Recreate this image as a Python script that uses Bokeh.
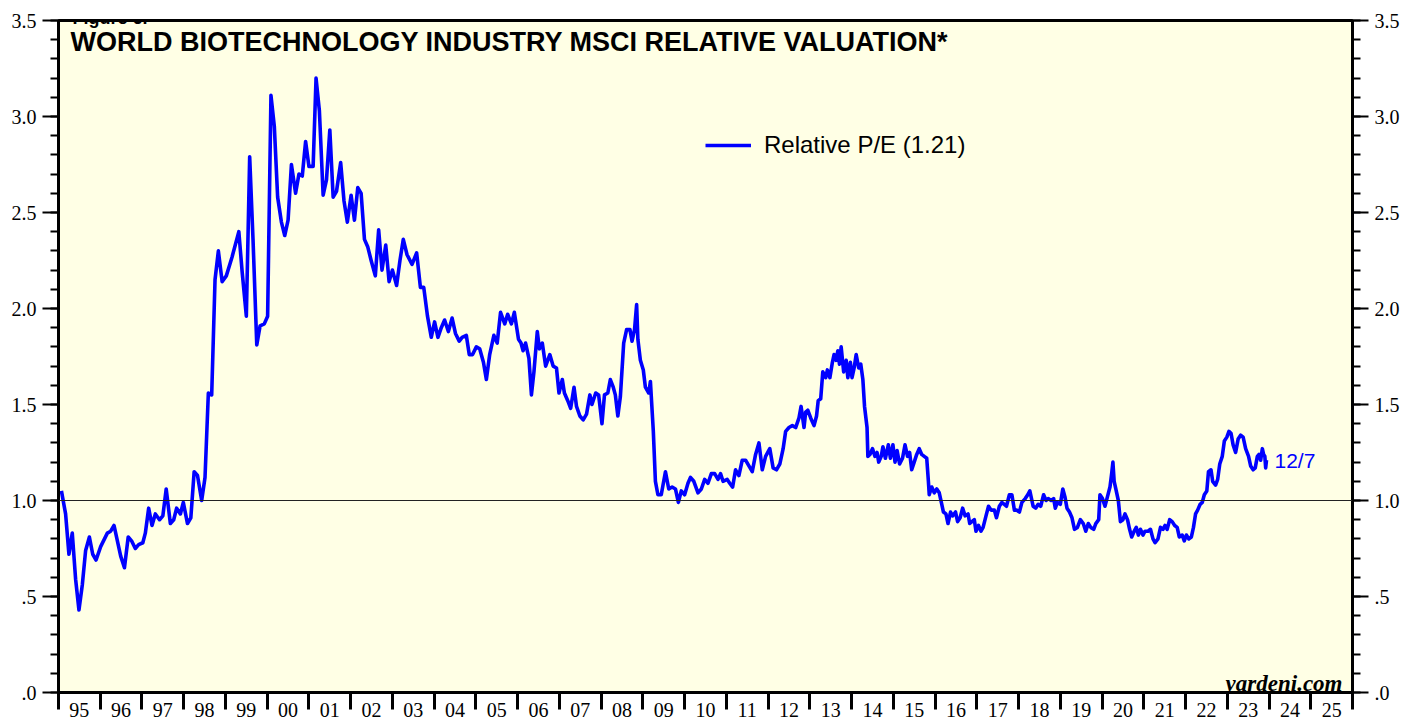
from bokeh.plotting import figure
from bokeh.models import (LinearAxis, FixedTicker, Range1d, Span, Label,
                          Legend, LegendItem)
from bokeh.embed import file_html
from bokeh.resources import INLINE

# ---- data ----
years = [
    1995.07, 1995.17, 1995.25, 1995.33, 1995.41, 1995.49, 1995.57, 1995.65, 1995.74, 1995.82,
    1995.90, 1996.01, 1996.17, 1996.25, 1996.33, 1996.49, 1996.58, 1996.67, 1996.75, 1996.84,
    1996.92, 1997.02, 1997.08, 1997.16, 1997.24, 1997.32, 1997.42, 1997.50, 1997.58, 1997.68,
    1997.76, 1997.83, 1997.92, 1997.99, 1998.09, 1998.17, 1998.25, 1998.33, 1998.43, 1998.51,
    1998.59, 1998.67, 1998.75, 1998.83, 1998.92, 1999.02, 1999.16, 1999.32, 1999.40, 1999.50,
    1999.58, 1999.66, 1999.75, 1999.83, 1999.93, 2000.01, 2000.09, 2000.17, 2000.25, 2000.34,
    2000.42, 2000.50, 2000.58, 2000.68, 2000.76,
    2000.84, 2000.92, 2001.00, 2001.10, 2001.17, 2001.25, 2001.34, 2001.42, 2001.50, 2001.58,
    2001.66, 2001.76, 2001.84, 2001.92, 2002.01, 2002.09, 2002.17, 2002.25, 2002.33, 2002.41,
    2002.49, 2002.59, 2002.67, 2002.75, 2002.84, 2002.92, 2003.00, 2003.10, 2003.18, 2003.26,
    2003.35, 2003.47, 2003.58, 2003.67, 2003.75, 2003.84, 2003.93, 2004.01, 2004.09, 2004.17,
    2004.25, 2004.34, 2004.43, 2004.51, 2004.60, 2004.67, 2004.77, 2004.84, 2004.92, 2005.01,
    2005.09, 2005.18, 2005.25, 2005.33, 2005.43, 2005.51, 2005.59, 2005.69, 2005.76, 2005.85,
    2005.92, 2006.02, 2006.08, 2006.13, 2006.19, 2006.27, 2006.33, 2006.39, 2006.47, 2006.52,
    2006.59, 2006.67, 2006.77, 2006.85, 2006.93, 2006.99, 2007.07, 2007.12, 2007.20, 2007.27,
    2007.35, 2007.41, 2007.49, 2007.57, 2007.65, 2007.73, 2007.78, 2007.87, 2007.94, 2008.02,
    2008.08, 2008.16, 2008.22, 2008.29, 2008.34, 2008.40, 2008.46, 2008.54, 2008.61, 2008.69,
    2008.74, 2008.80, 2008.85, 2008.88, 2008.94, 2009.01, 2009.06, 2009.14, 2009.18, 2009.25,
    2009.30, 2009.36, 2009.44, 2009.54, 2009.62, 2009.70, 2009.78, 2009.85, 2009.92, 2010.00,
    2010.08, 2010.14, 2010.22, 2010.32, 2010.40, 2010.48, 2010.56, 2010.64, 2010.72, 2010.80,
    2010.86, 2010.92, 2011.02, 2011.08, 2011.15, 2011.22, 2011.30, 2011.38, 2011.46, 2011.54,
    2011.62, 2011.70, 2011.78, 2011.86, 2011.94, 2012.04, 2012.12, 2012.20, 2012.28,
    2012.36, 2012.42, 2012.50, 2012.58, 2012.66, 2012.74, 2012.79, 2012.86, 2012.90, 2012.95,
    2013.02, 2013.10, 2013.16, 2013.20, 2013.26, 2013.31, 2013.38, 2013.42, 2013.48, 2013.54,
    2013.58, 2013.63, 2013.67, 2013.71, 2013.75, 2013.81, 2013.87, 2013.91, 2013.97, 2014.01,
    2014.06, 2014.11, 2014.17, 2014.22, 2014.27, 2014.31, 2014.37, 2014.39, 2014.44, 2014.50,
    2014.56, 2014.61, 2014.65, 2014.71, 2014.75, 2014.81, 2014.88, 2014.93, 2014.99, 2015.04,
    2015.09, 2015.15, 2015.22, 2015.28, 2015.34, 2015.39, 2015.44, 2015.50, 2015.56, 2015.62,
    2015.68, 2015.74, 2015.80, 2015.84, 2015.86, 2015.92, 2015.98, 2016.04, 2016.10, 2016.15,
    2016.20, 2016.26, 2016.31, 2016.37, 2016.42, 2016.49, 2016.54, 2016.60, 2016.66, 2016.72,
    2016.79, 2016.83, 2016.88, 2016.94, 2016.98, 2017.04, 2017.10, 2017.15, 2017.22, 2017.28,
    2017.34, 2017.42, 2017.47, 2017.54, 2017.60, 2017.66, 2017.71, 2017.78, 2017.84, 2017.90,
    2017.95, 2018.02, 2018.08, 2018.16, 2018.22, 2018.27,
    2018.35, 2018.41, 2018.47, 2018.53, 2018.60, 2018.66, 2018.71, 2018.78, 2018.84, 2018.88,
    2018.93, 2019.00, 2019.06, 2019.11, 2019.16, 2019.22, 2019.28, 2019.34, 2019.41, 2019.48,
    2019.55, 2019.61, 2019.67, 2019.73, 2019.80, 2019.85, 2019.92, 2019.95, 2020.01, 2020.07,
    2020.13, 2020.19, 2020.23, 2020.26, 2020.29, 2020.33, 2020.39, 2020.44, 2020.50, 2020.55,
    2020.61, 2020.66, 2020.71, 2020.77, 2020.82, 2020.87, 2020.92, 2020.98, 2021.03, 2021.10,
    2021.16, 2021.22, 2021.27, 2021.34, 2021.40, 2021.46, 2021.51, 2021.56, 2021.62, 2021.68,
    2021.74, 2021.80, 2021.85, 2021.92, 2021.97, 2022.02, 2022.08, 2022.14, 2022.19, 2022.24,
    2022.29, 2022.35, 2022.40, 2022.45, 2022.51, 2022.55, 2022.61, 2022.65, 2022.72, 2022.77,
    2022.82, 2022.88, 2022.93, 2022.99, 2023.04, 2023.09, 2023.14, 2023.20, 2023.26, 2023.32,
    2023.38, 2023.44, 2023.51, 2023.56, 2023.62, 2023.67, 2023.72, 2023.76, 2023.80, 2023.84,
    2023.87, 2023.90, 2023.92, 2023.94,
]

relative_pe = [
    1.05, 0.93, 0.72, 0.83, 0.59, 0.43, 0.56, 0.74, 0.81, 0.72,
    0.69, 0.76, 0.83, 0.84, 0.87, 0.71, 0.65, 0.81, 0.79, 0.75,
    0.77, 0.78, 0.83, 0.96, 0.87, 0.93, 0.90, 0.92, 1.06, 0.88,
    0.90, 0.96, 0.93, 0.99, 0.88, 0.91, 1.15, 1.13, 1.00, 1.12,
    1.56, 1.55, 2.15, 2.30, 2.14, 2.17, 2.27, 2.40, 2.19, 1.96,
    2.79, 2.36, 1.81, 1.91, 1.92, 1.96, 3.11, 2.95, 2.58, 2.45,
    2.38, 2.46, 2.75, 2.60, 2.70,
    2.69, 2.87, 2.74, 2.74, 3.20, 3.03, 2.59, 2.67, 2.93, 2.58,
    2.61, 2.76, 2.56, 2.45, 2.59, 2.46, 2.63, 2.60, 2.36, 2.32,
    2.25, 2.17, 2.41, 2.20, 2.33, 2.14, 2.20, 2.12, 2.25, 2.36,
    2.28, 2.23, 2.29, 2.11, 2.11, 1.96, 1.85, 1.93, 1.85, 1.90,
    1.94, 1.88, 1.95, 1.87, 1.83, 1.85, 1.86, 1.76, 1.76, 1.80,
    1.79, 1.72, 1.63, 1.76, 1.86, 1.82, 1.98, 1.92, 1.97, 1.92,
    1.98, 1.84, 1.82, 1.78, 1.82, 1.74, 1.55, 1.67, 1.88, 1.79,
    1.82, 1.70, 1.76, 1.70, 1.69, 1.56, 1.63, 1.56, 1.52, 1.48,
    1.59, 1.49, 1.44, 1.42, 1.45, 1.55, 1.50, 1.56, 1.55, 1.40,
    1.55, 1.56, 1.63, 1.59, 1.55, 1.44, 1.54, 1.82, 1.89, 1.89,
    1.83, 1.89, 2.02, 1.84, 1.73, 1.68, 1.59, 1.56, 1.62, 1.36,
    1.10, 1.03, 1.03, 1.15, 1.06, 1.07, 1.06, 0.99, 1.05, 1.03,
    1.09, 1.12, 1.10, 1.04, 1.06, 1.11, 1.09, 1.14, 1.14, 1.11,
    1.14, 1.10, 1.11, 1.09, 1.07, 1.16, 1.13, 1.21, 1.21, 1.18,
    1.15, 1.24, 1.30, 1.16, 1.23, 1.27, 1.17, 1.16, 1.19,
    1.27, 1.36, 1.38, 1.39, 1.38, 1.43, 1.49, 1.38, 1.46, 1.47,
    1.43, 1.39, 1.44, 1.52, 1.53, 1.67, 1.64, 1.68, 1.64, 1.72,
    1.76, 1.73, 1.78, 1.71, 1.80, 1.67, 1.73, 1.64, 1.72, 1.64,
    1.69, 1.76, 1.69, 1.71, 1.63, 1.49, 1.38, 1.23, 1.24, 1.27,
    1.23, 1.25, 1.20, 1.23, 1.28, 1.22, 1.29, 1.22, 1.29, 1.20,
    1.26, 1.19, 1.22, 1.29, 1.23, 1.25, 1.16, 1.20, 1.24, 1.27,
    1.24, 1.23, 1.22, 1.10, 1.03, 1.07, 1.04, 1.06, 1.04, 0.99,
    0.94, 0.93, 0.88, 0.94, 0.92, 0.94, 0.89, 0.91, 0.96, 0.92,
    0.93, 0.88, 0.89, 0.90, 0.84, 0.87, 0.84, 0.86, 0.92, 0.97,
    0.95, 0.95, 0.91, 0.97, 0.99, 0.98, 0.97, 1.03, 1.03, 0.95,
    0.95, 0.94, 0.99, 1.01, 1.03, 1.05,
    0.97, 0.96, 0.98, 0.97, 1.03, 1.00, 1.01, 1.00, 1.01, 0.96,
    0.99, 0.98, 1.06, 1.02, 0.96, 0.94, 0.91, 0.85, 0.86, 0.90,
    0.88, 0.84, 0.88, 0.86, 0.85, 0.88, 0.90, 1.03, 1.01, 0.97,
    1.02, 1.07, 1.14, 1.20, 1.10, 1.06, 1.00, 0.89, 0.90, 0.93,
    0.90, 0.85, 0.81, 0.84, 0.86, 0.82, 0.85, 0.82, 0.84, 0.84,
    0.85, 0.80, 0.78, 0.80, 0.86, 0.85, 0.87, 0.85, 0.90, 0.89,
    0.87, 0.86, 0.81, 0.82, 0.79, 0.82, 0.80, 0.81, 0.86, 0.93,
    0.95, 0.98, 0.99, 1.03, 1.05, 1.15, 1.16, 1.10, 1.08, 1.11,
    1.19, 1.23, 1.31, 1.33, 1.36, 1.35, 1.29, 1.25, 1.32, 1.34,
    1.33, 1.27, 1.23, 1.18, 1.16, 1.17, 1.23, 1.24, 1.21, 1.27,
    1.24, 1.23, 1.17, 1.21,
]

x_start, x_end = 1995, 2026
year_labels = ["95", "96", "97", "98", "99", "00", "01", "02", "03", "04", "05",
               "06", "07", "08", "09", "10", "11", "12", "13", "14", "15", "16",
               "17", "18", "19", "20", "21", "22", "23", "24", "25"]
y_ticks = [0.0, 0.5, 1.0, 1.5, 2.0, 2.5, 3.0, 3.5]
y_tick_labels = [".0", ".5", "1.0", "1.5", "2.0", "2.5", "3.0", "3.5"]
y_minor = [round(i * 0.1, 1) for i in range(36)]

title_text = "WORLD BIOTECHNOLOGY INDUSTRY MSCI RELATIVE VALUATION*"
legend_text = "Relative P/E (1.21)"
date_text = "12/7"
source_text = "yardeni.com"
figure_text = "Figure 6."

BLUE = "#0000FF"
BG = "#FFFFE5"
SERIF = "Liberation Serif"
SANS = "Liberation Sans"

p = figure(width=1406, height=719, output_backend="svg", toolbar_location=None,
           x_range=Range1d(x_start, x_end), y_range=Range1d(0, 3.5),
           x_axis_location=None, y_axis_location=None,
           min_border_left=58, min_border_right=54, min_border_top=20,
           min_border_bottom=27)
p.background_fill_color = BG
p.border_fill_color = "white"
p.outline_line_color = "black"
p.outline_line_width = 3
p.grid.visible = False

year_mids = [x_start + i + 0.5 for i in range(len(year_labels))]
year_bounds = [x_start + i for i in range(len(year_labels) + 1)]


def style_y(ax):
    ax.ticker = FixedTicker(ticks=y_ticks, minor_ticks=y_minor)
    ax.major_label_overrides = {t: l for t, l in zip(y_ticks, y_tick_labels)}
    ax.axis_line_color = "black"
    ax.axis_line_width = 3
    ax.major_tick_in = 0
    ax.major_tick_out = 16
    ax.minor_tick_in = 0
    ax.minor_tick_out = 8
    ax.major_tick_line_width = 2
    ax.minor_tick_line_width = 2
    ax.major_tick_line_color = "black"
    ax.minor_tick_line_color = "black"
    ax.major_label_text_font = SERIF
    ax.major_label_text_font_size = "20px"
    ax.major_label_text_color = "black"
    ax.major_label_standoff = 6


left = LinearAxis()
style_y(left)
p.add_layout(left, "left")
right = LinearAxis()
style_y(right)
p.add_layout(right, "right")

bottom = LinearAxis(ticker=FixedTicker(ticks=year_mids, minor_ticks=year_bounds))
bottom.major_label_overrides = {m: l for m, l in zip(year_mids, year_labels)}
bottom.axis_line_color = "black"
bottom.axis_line_width = 3
bottom.major_tick_line_color = None
bottom.major_tick_in = 0
bottom.major_tick_out = 0
bottom.minor_tick_in = 0
bottom.minor_tick_out = 17
bottom.minor_tick_line_width = 3
bottom.minor_tick_line_color = "black"
bottom.major_label_text_font = SERIF
bottom.major_label_text_font_size = "20px"
bottom.major_label_text_color = "black"
bottom.major_label_standoff = -7
p.add_layout(bottom, "below")

p.add_layout(Span(location=1.0, dimension="width", line_color="#222222", line_width=1.2))

r = p.line(years, relative_pe, line_color=BLUE, line_width=3.6, line_join="round")

legend = Legend(items=[LegendItem(label=legend_text, renderers=[r])],
                location=(647, 533), border_line_color=None,
                background_fill_alpha=0, label_text_font=SANS,
                label_text_color="black",
                label_text_font_size="24px", glyph_width=46, glyph_height=22,
                label_height=22, label_standoff=13, padding=0, margin=0, spacing=0)
p.add_layout(legend)

p.add_layout(Label(x=x_start + 12 / 41.77, y=3.5 - 6 / 192, text=title_text,
                   text_font=SANS, text_font_style="bold", text_font_size="27px",
                   text_baseline="top", text_color="black"))
p.add_layout(Label(x=x_start + 14 / 41.77, y=3.5, y_offset=3, text=figure_text,
                   text_font=SANS, text_font_style="bold", text_font_size="18px",
                   text_baseline="alphabetic", text_color="black"))
p.add_layout(Label(x=years[-1], y=relative_pe[-1], x_offset=8, text=date_text,
                   text_font=SANS, text_font_size="21px", text_baseline="middle",
                   text_color=BLUE))
p.add_layout(Label(x=x_end, y=0, x_offset=-10, y_offset=9, text=source_text,
                   text_font=SERIF, text_font_style="bold italic",
                   text_font_size="23px", text_align="right",
                   text_baseline="alphabetic", text_color="black"))

open("out.html", "w").write(file_html(p, INLINE))
